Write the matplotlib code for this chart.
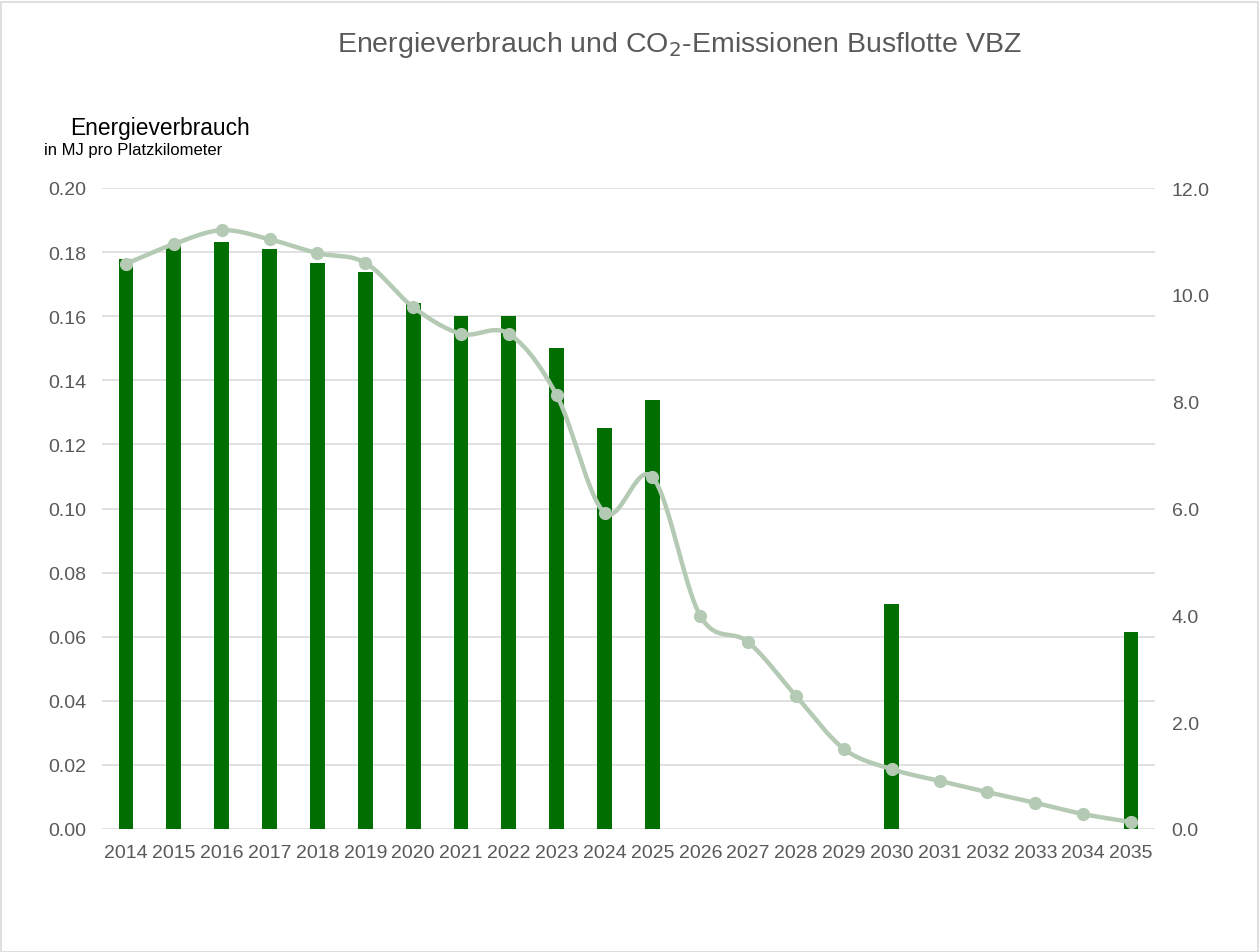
import matplotlib.pyplot as plt
from matplotlib.patches import Rectangle
import numpy as np

plt.rcParams['font.family'] = ['Liberation Sans', 'DejaVu Sans']

years = list(range(2014, 2036))
energie = [0.178, 0.182, 0.183, 0.181, 0.1766, 0.1738, 0.164, 0.160, 0.160, 0.150, 0.125, 0.134,
           np.nan, np.nan, np.nan, np.nan, 0.0702, np.nan, np.nan, np.nan, np.nan, 0.0615]
co2 = [10.58, 10.95, 11.21, 11.04, 10.78, 10.60, 9.77, 9.27, 9.27, 8.12, 5.92, 6.59,
       3.99, 3.50, 2.49, 1.50, 1.12, 0.90, 0.69, 0.49, 0.28, 0.13]

bar_col = '#006e00'
line_col = '#b4cab4'
txt_col = '#595959'


def catmull_rom(x, y, n=30):
    # smooth curve through the points, like the spreadsheet "smoothed line"
    x = np.asarray(x, float)
    y = np.asarray(y, float)
    px = np.concatenate([[2 * x[0] - x[1]], x, [2 * x[-1] - x[-2]]])
    py = np.concatenate([[2 * y[0] - y[1]], y, [2 * y[-1] - y[-2]]])
    xs, ys = [], []
    t = np.linspace(0, 1, n, endpoint=False)
    for i in range(1, len(px) - 2):
        for p, out in ((px, xs), (py, ys)):
            p0, p1, p2, p3 = p[i - 1], p[i], p[i + 1], p[i + 2]
            out.append(0.5 * (2 * p1 + (-p0 + p2) * t + (2 * p0 - 5 * p1 + 4 * p2 - p3) * t ** 2
                              + (-p0 + 3 * p1 - 3 * p2 + p3) * t ** 3))
    xs.append([x[-1]])
    ys.append([y[-1]])
    return np.concatenate(xs), np.concatenate(ys)


fig = plt.figure(figsize=(12.6, 9.53), dpi=100)
ax = fig.add_axes([102 / 1260, 1 - 830 / 953, (1155 - 102) / 1260, (830 - 189) / 953])
xpos = np.arange(len(years))

ax.bar(xpos, energie, width=0.31, color=bar_col, zorder=2)
ax.set_ylim(0, 0.20)
ax.set_xlim(-0.5, len(years) - 0.5)
ax.set_yticks(np.arange(0, 0.201, 0.02))
ax.set_yticklabels([f'{v:.2f}' for v in np.arange(0, 0.201, 0.02)])
ax.set_xticks(xpos)
ax.set_xticklabels([str(y) for y in years])
ax.grid(axis='y', color='#d9d9d9', linewidth=1.1, zorder=0)
ax.set_axisbelow(True)
for s in ax.spines.values():
    s.set_visible(False)
ax.tick_params(length=0, labelsize=14, colors=txt_col)
ax.tick_params(axis='x', pad=11)
ax.tick_params(axis='y', pad=11)

ax2 = ax.twinx()
sx, sy = catmull_rom(xpos, co2)
ax2.plot(sx, sy, color=line_col, linewidth=3.2, solid_capstyle='round', zorder=3)
ax2.plot(xpos, co2, 'o', color=line_col, markersize=8.5, zorder=4)
ax2.set_ylim(0, 12)
ax2.set_yticks(np.arange(0, 12.1, 2))
ax2.set_yticklabels([f'{v:.1f}' for v in np.arange(0, 12.1, 2)])
for s in ax2.spines.values():
    s.set_visible(False)
ax2.tick_params(length=0, labelsize=14, colors=txt_col, pad=12)

fig.text(679 / 1260, 1 - 45 / 953, 'Energieverbrauch und CO$_2$-Emissionen Busflotte VBZ',
         ha='center', va='center', fontsize=20.5, color=txt_col)
fig.text(70 / 1260, 1 - 128 / 953, 'Energieverbrauch', ha='left', va='center',
         fontsize=16.4, color='black')
fig.text(44 / 1260, 1 - 150 / 953, 'in MJ pro Platzkilometer', ha='left', va='center',
         fontsize=12, color='black')

fig.patches.append(Rectangle((0.5 / 1260, 0.5 / 953), 1257 / 1260, 950 / 953,
                             transform=fig.transFigure, fill=False,
                             edgecolor='#d9d9d9', linewidth=1.2))

fig.savefig('out.png', dpi=100, facecolor='white')
